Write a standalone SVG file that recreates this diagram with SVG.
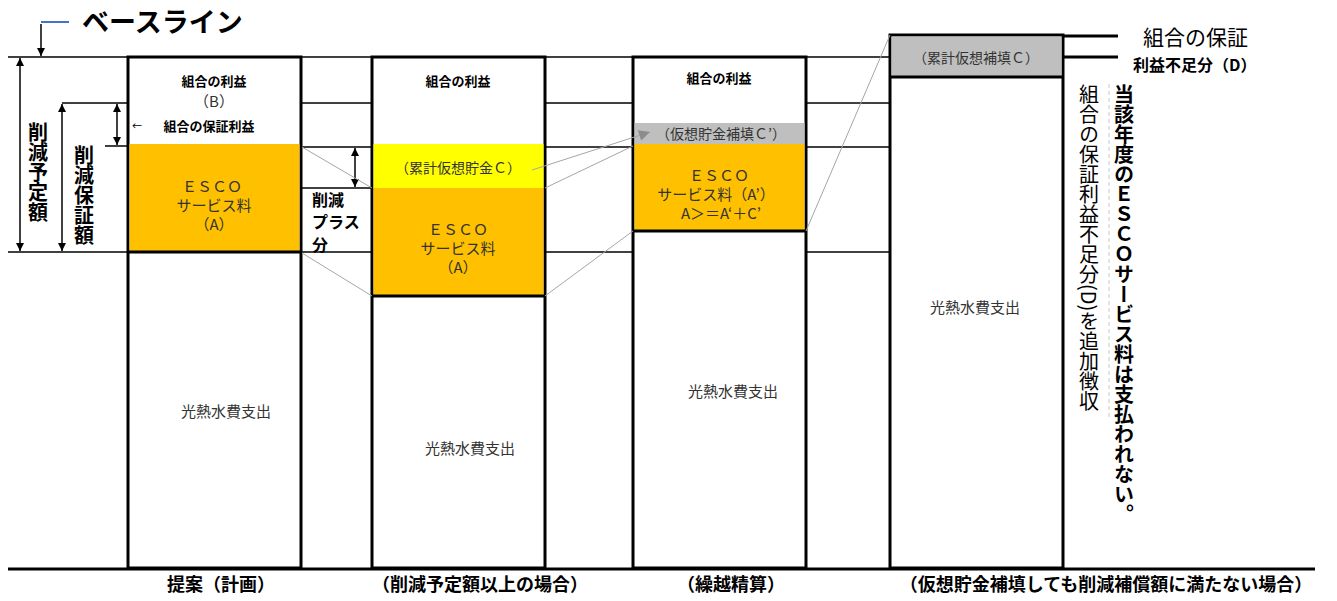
<svg xmlns="http://www.w3.org/2000/svg" width="1337" height="601" viewBox="0 0 1337 601">
<style>
text{font-family:"Noto Sans CJK JP","Noto Sans",sans-serif;fill:#000}
.c{text-anchor:middle;dominant-baseline:central}
.b{font-weight:bold}
.h{font-size:13px;font-weight:bold}
.m{font-size:15px;fill:#333}
.s{font-size:14px;fill:#333}
.bot{font-size:18px;font-weight:bold}
.box{fill:#fff;stroke:#000;stroke-width:3}
.thin{stroke:#000;stroke-width:1.5;fill:none}
.thick{stroke:#000;stroke-width:3;fill:none}
.gl{stroke:#a6a6a6;stroke-width:1;fill:none}
.dim{stroke:#000;stroke-width:1.5;fill:none;marker-start:url(#ah);marker-end:url(#ah)}
.vt{writing-mode:vertical-rl;font-size:20px}
</style>
<defs>
<marker id="ah" viewBox="0 0 10 10" refX="10" refY="5" markerWidth="8" markerHeight="8" markerUnits="userSpaceOnUse" orient="auto-start-reverse"><path d="M0,0 L10,5 L0,10 z" fill="#000"/></marker>
<marker id="ga" viewBox="0 0 10 10" refX="10" refY="5" markerWidth="13" markerHeight="11" markerUnits="userSpaceOnUse" orient="auto"><path d="M0,0 L10,5 L0,10 z" fill="#8c8c8c"/></marker>
</defs>
<rect width="1337" height="601" fill="#fff"/>

<g id="gridlines">
<line class="thin" x1="8" y1="57" x2="128" y2="57"/>
<line class="thin" x1="62" y1="103" x2="128" y2="103"/>
<line class="thin" x1="105" y1="146" x2="128" y2="146"/>
<line class="thin" x1="8" y1="252" x2="128" y2="252"/>
<line class="thin" x1="301" y1="57" x2="372" y2="57"/>
<line class="thin" x1="301" y1="103" x2="372" y2="103"/>
<line class="thin" x1="301" y1="147" x2="372" y2="147"/>
<line class="thin" x1="301" y1="188" x2="372" y2="188"/>
<line class="thin" x1="301" y1="252" x2="372" y2="252"/>
<line class="thin" x1="545" y1="57" x2="633" y2="57"/>
<line class="thin" x1="545" y1="103" x2="633" y2="103"/>
<line class="thin" x1="545" y1="147" x2="633" y2="147"/>
<line class="thin" x1="545" y1="252" x2="633" y2="252"/>
<line class="thin" x1="806" y1="57" x2="890" y2="57"/>
<line class="thin" x1="806" y1="103" x2="890" y2="103"/>
<line class="thin" x1="806" y1="147" x2="890" y2="147"/>
<line class="thin" x1="806" y1="252" x2="890" y2="252"/>
<line class="thick" x1="1063" y1="36" x2="1118" y2="36"/>
<line class="thick" x1="1063" y1="57" x2="1118" y2="57"/>
<line class="thick" x1="8" y1="569" x2="1315" y2="569"/>
<line x1="1109" y1="84" x2="1109" y2="420" stroke="#c8c8c8" stroke-width="1" stroke-dasharray="4,3"/>
</g>

<g id="baseline">
<line x1="41" y1="22" x2="69" y2="22" stroke="#4472c4" stroke-width="2"/>
<line x1="41" y1="24" x2="41" y2="56" stroke="#000" stroke-width="1.5" marker-end="url(#ah)"/>
<text x="82" y="20" dominant-baseline="central" font-size="27" class="b">ベースライン</text>
</g>

<g id="dimensions">
<line class="dim" x1="20" y1="58" x2="20" y2="251"/>
<line class="dim" x1="62" y1="104" x2="62" y2="251"/>
<line class="dim" x1="117" y1="104" x2="117" y2="145"/>
<line class="dim" x1="355" y1="148" x2="355" y2="187"/>
<text class="vt b" x="38" y="122">削減予定額</text>
<text class="vt b" x="84" y="145">削減保証額</text>
</g>

<g id="plus">
<text x="312" y="206" font-size="16" class="b">削減</text>
<text x="312" y="228" font-size="16" class="b">プラス</text>
<text x="312" y="251" font-size="16" class="b">分</text>
</g>

<g id="col1">
<rect class="box" x="128" y="57" width="173" height="511"/>
<rect x="129.5" y="144" width="170" height="108" fill="#ffc000"/>
<line class="thick" x1="128" y1="252" x2="301" y2="252"/>
<text class="c h" x="214" y="80">組合の利益</text>
<text class="c m" x="214" y="100">（B）</text>
<text class="c" x="137" y="125" font-size="10" fill="#444">←</text>
<text class="c h" x="209" y="125">組合の保証利益</text>
<text class="c m" x="212" y="185">ＥＳＣＯ</text>
<text class="c m" x="214" y="204">サービス料</text>
<text class="c m" x="214" y="223">（A）</text>
<text class="c m" x="226" y="410">光熱水費支出</text>
</g>

<g id="col2">
<rect class="box" x="372" y="57" width="173" height="511"/>
<rect x="373.5" y="144" width="170" height="44" fill="#ffff00"/>
<rect x="373.5" y="188" width="170" height="108" fill="#ffc000"/>
<line class="thick" x1="372" y1="296" x2="545" y2="296"/>
<text class="c h" x="458" y="80">組合の利益</text>
<text class="c s" x="458" y="167">（累計仮想貯金Ｃ）</text>
<text class="c m" x="458" y="228">ＥＳＣＯ</text>
<text class="c m" x="458" y="247">サービス料</text>
<text class="c m" x="458" y="266">（A）</text>
<text class="c m" x="470" y="447">光熱水費支出</text>
</g>

<g id="col3">
<rect class="box" x="633" y="57" width="173" height="511"/>
<rect x="634.5" y="123" width="170" height="21" fill="#bfbfbf"/>
<rect x="634.5" y="144" width="170" height="87" fill="#ffc000"/>
<line class="thick" x1="633" y1="231" x2="806" y2="231"/>
<text class="c h" x="719" y="77">組合の利益</text>
<text class="c s" x="721" y="133">（仮想貯金補填Ｃ’）</text>
<text class="c m" x="719" y="174">ＥＳＣＯ</text>
<text class="c m" x="716" y="193">サービス料（A’）</text>
<text class="c m" x="721" y="212">A＞＝A‘＋C’</text>
<text class="c m" x="733" y="390">光熱水費支出</text>
</g>

<g id="col4">
<rect class="box" x="890" y="35" width="173" height="533"/>
<rect x="891.5" y="36.5" width="170" height="40.5" fill="#bfbfbf"/>
<line class="thick" x1="890" y1="77" x2="1063" y2="77"/>
<text class="c s" x="976" y="57">（累計仮想補填Ｃ）</text>
<text class="c m" x="975" y="306">光熱水費支出</text>
</g>

<g id="right-notes">
<text x="1143" y="36" dominant-baseline="central" font-size="21">組合の保証</text>
<text x="1133" y="64" dominant-baseline="central" font-size="16" class="b">利益不足分（D）</text>
<text class="vt" x="1089" y="84">組合の保証利益不足分(D)を追加徴収</text>
<text class="vt b" x="1124" y="84">当該年度のＥＳＣＯサービス料は支払われない。</text>
</g>

<g id="connectors">
<line class="gl" x1="302" y1="147" x2="372" y2="188"/>
<line class="gl" x1="302" y1="253" x2="372" y2="296"/>
<line class="gl" x1="545" y1="188" x2="633" y2="146"/>
<line class="gl" x1="545" y1="296" x2="633" y2="231"/>
<line class="gl" x1="532" y1="170" x2="650" y2="132" stroke="#8c8c8c" marker-end="url(#ga)"/>
<line class="gl" x1="806" y1="231" x2="890" y2="35"/>
</g>

<g id="bottom-labels">
<text class="c bot" x="221" y="583">提案（計画）</text>
<text class="c bot" x="480" y="583">（削減予定額以上の場合）</text>
<text class="c bot" x="731" y="583">（繰越精算）</text>
<text class="c bot" x="1106" y="583">（仮想貯金補填しても削減補償額に満たない場合）</text>
</g>
</svg>
